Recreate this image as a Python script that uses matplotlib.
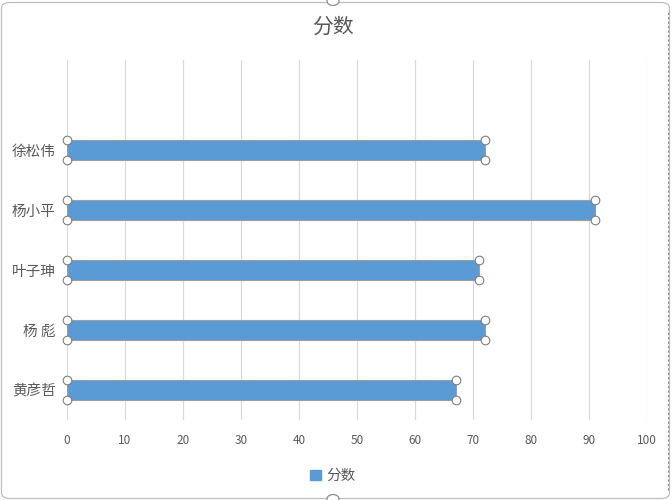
import matplotlib
matplotlib.use("Agg")
import matplotlib.pyplot as plt
from matplotlib.patches import FancyBboxPatch, Circle

plt.rcParams['font.family'] = ['Noto Sans CJK SC', 'DejaVu Sans']

title = "分数"
names = ["徐松伟", "杨小平", "叶子珅", "杨 彪", "黄彦哲"]
scores = [72, 91, 71, 72, 67]
xticks = [0, 10, 20, 30, 40, 50, 60, 70, 80, 90, 100]

bar_color = "#5B9BD5"
text_color = "#595959"
grid_color = "#D9D9D9"

fig = plt.figure(figsize=(6.72, 5.0), dpi=100)
W, H = 672, 500

# chart frame with selection handles
frame = FancyBboxPatch((1.5 / W, 1.5 / H), (W - 4) / W, (H - 4) / H,
                       boxstyle="round,pad=0,rounding_size=0.012",
                       transform=fig.transFigure, fill=False,
                       edgecolor="#BFBFBF", linewidth=0.9)
fig.patches.append(frame)
for (px, py) in [(333, 499), (333, 1)]:
    fig.patches.append(Circle((px / W, py / H), 6 / W, transform=fig.transFigure,
                              facecolor="white", edgecolor="#8C8C8C", linewidth=0.9))
fig.add_artist(plt.Line2D([668 / W, 668 / W], [10 / H, 490 / H], transform=fig.transFigure,
                          color="#8C8C8C", linewidth=0.8, linestyle=(0, (2, 2))))

ax = fig.add_axes([67 / W, 80 / H, 580 / W, 360 / H])

n = len(names)
ypos = [n - 1 - i for i in range(n)]
bar_h = 1 / 3
ax.barh(ypos, scores, height=bar_h, color=bar_color, edgecolor="#9E9E9E",
        linewidth=0.8, zorder=3)

# selection handles at bar corners
for y, v in zip(ypos, scores):
    for hx in (0, v):
        for hy in (y - bar_h / 2, y + bar_h / 2):
            ax.plot(hx, hy, marker="o", markersize=6.2, markerfacecolor="white",
                    markeredgecolor="#7F7F7F", markeredgewidth=0.8,
                    clip_on=False, zorder=5)

ax.set_xlim(0, 100)
ax.set_ylim(-0.5, n + 0.5)
ax.set_xticks(xticks)
ax.set_xticklabels([str(t) for t in xticks], fontsize=8.5, color=text_color)
ax.set_yticks(ypos)
ax.set_yticklabels(names, fontsize=10.5, color=text_color)
ax.tick_params(axis="both", length=0)
ax.tick_params(axis="x", pad=10)
ax.tick_params(axis="y", pad=8)
for s in ax.spines.values():
    s.set_visible(False)
ax.grid(axis="x", color=grid_color, linewidth=0.9, zorder=0)
ax.set_axisbelow(True)

fig.text(333 / W, 1 - 27 / H, title, ha="center", va="center",
         fontsize=15, color=text_color)

leg = fig.legend([plt.Rectangle((0, 0), 1, 1, color=bar_color)], [title],
                 loc="center", bbox_to_anchor=(333 / W, 1 - 476 / H),
                 frameon=False, fontsize=10.5, handlelength=0.7, handleheight=0.7,
                 handletextpad=0.4)
for t in leg.get_texts():
    t.set_color(text_color)

fig.savefig("out.png", dpi=100, facecolor="white")
